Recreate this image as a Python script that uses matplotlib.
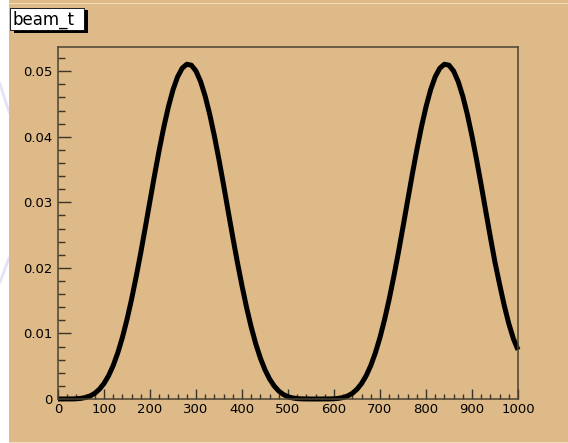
import numpy as np
import matplotlib
matplotlib.use("Agg")
import matplotlib.pyplot as plt
from matplotlib.patches import Rectangle
from matplotlib.lines import Line2D
from matplotlib.ticker import MultipleLocator, FuncFormatter

# values (every 10 units along x)
beam_x = list(range(0, 1001, 10))
beam_y = [0.0, 0.0, 0.00001, 0.00001, 0.00003, 0.00010, 0.00023, 0.00047,
          0.00087, 0.00149, 0.00237, 0.00356, 0.00511, 0.00705, 0.00939,
          0.01213, 0.01524, 0.01868, 0.02235, 0.02625, 0.03023, 0.03420,
          0.03798, 0.04148, 0.04457, 0.04717, 0.04915, 0.05047, 0.05107,
          0.05092, 0.05003, 0.04843, 0.04619, 0.04338, 0.04011, 0.03649,
          0.03263, 0.02863, 0.02467, 0.02084, 0.01727, 0.01395, 0.01098,
          0.00840, 0.00623, 0.00445, 0.00305, 0.00198, 0.00121, 0.00068,
          0.00035, 0.00016, 0.00006, 0.00002, 0.00001, 0.0, 0.0,
          0.0, 0.00001, 0.00001, 0.00003, 0.00010, 0.00023, 0.00047,
          0.00087, 0.00149, 0.00237, 0.00356, 0.00511, 0.00705, 0.00939,
          0.01213, 0.01524, 0.01868, 0.02235, 0.02625, 0.03023, 0.03420,
          0.03798, 0.04148, 0.04457, 0.04717, 0.04915, 0.05047, 0.05107,
          0.05092, 0.05003, 0.04843, 0.04619, 0.04338, 0.04011, 0.03649,
          0.03263, 0.02863, 0.02467, 0.02084, 0.01750, 0.01430, 0.01150,
          0.00920, 0.00750]
title = "beam_t"

W, H = 568, 443
tan = "#DEBA88"

def fx(px):
    return px / W

def fy(py):
    return 1 - py / H

fig = plt.figure(figsize=(W / 100, H / 100), dpi=100, facecolor="white")

# faint marks on the white strip at the left
for xs, ys in [([0, 9], [84, 112]), ([9, 0], [258, 282])]:
    fig.lines.append(Line2D([fx(v) for v in xs], [fy(v) for v in ys],
                            transform=fig.transFigure, color="#E6E2F6", lw=2.0, zorder=0))

# canvas background (ROOT pad)
fig.patches.append(Rectangle((fx(9), 0), 1 - fx(9), 1, transform=fig.transFigure,
                             facecolor=tan, edgecolor="none", zorder=0))
fig.patches.append(Rectangle((fx(9), fy(4)), 1 - fx(9), 1.2 / H, transform=fig.transFigure,
                             facecolor="#EFDDC0", edgecolor="none", zorder=0))
fig.patches.append(Rectangle((fx(9), fy(443)), 1 - fx(9), 1.5 / H, transform=fig.transFigure,
                             facecolor="#EFDDC0", edgecolor="none", zorder=0))

ax = fig.add_axes([fx(58), fy(399), fx(518) - fx(58), fy(47) - fy(399)])
ax.set_zorder(2)
ax.set_facecolor(tan)
ax.plot(beam_x, beam_y, color="black", lw=3.6, solid_joinstyle="round",
        solid_capstyle="butt", clip_on=False)

ax.set_xlim(0, 1000)
ax.set_ylim(0, 0.0537)

ax.xaxis.set_major_locator(MultipleLocator(100))
ax.xaxis.set_minor_locator(MultipleLocator(20))
ax.yaxis.set_major_locator(MultipleLocator(0.01))
ax.yaxis.set_minor_locator(MultipleLocator(0.002))
ax.yaxis.set_major_formatter(FuncFormatter(lambda v, p: "%g" % round(v, 4)))
ax.xaxis.set_major_formatter(FuncFormatter(lambda v, p: "%d" % v))

ax.tick_params(axis="both", which="both", direction="in", color="#3a3326",
               width=1.0, labelsize=9.5, labelcolor="black")
ax.tick_params(axis="x", which="major", length=7.5, pad=3)
ax.tick_params(axis="x", which="minor", length=3.8)
ax.tick_params(axis="y", which="major", length=9.5, pad=4)
ax.tick_params(axis="y", which="minor", length=5)

for s in ax.spines.values():
    s.set_color("#4a4232")
    s.set_linewidth(1.1)

# title box with shadow
fig.patches.append(Rectangle((fx(14), fy(33)), fx(74), 23 / H, transform=fig.transFigure,
                             facecolor="black", edgecolor="none", zorder=3))
fig.patches.append(Rectangle((fx(10), fy(30)), fx(74), 22 / H, transform=fig.transFigure,
                             facecolor="white", edgecolor="black", lw=0.6, zorder=4))
fig.text(fx(13), fy(19.5), title, fontsize=12, ha="left", va="center",
         color="black", zorder=5)

fig.savefig("out.png", dpi=100, facecolor=fig.get_facecolor())
